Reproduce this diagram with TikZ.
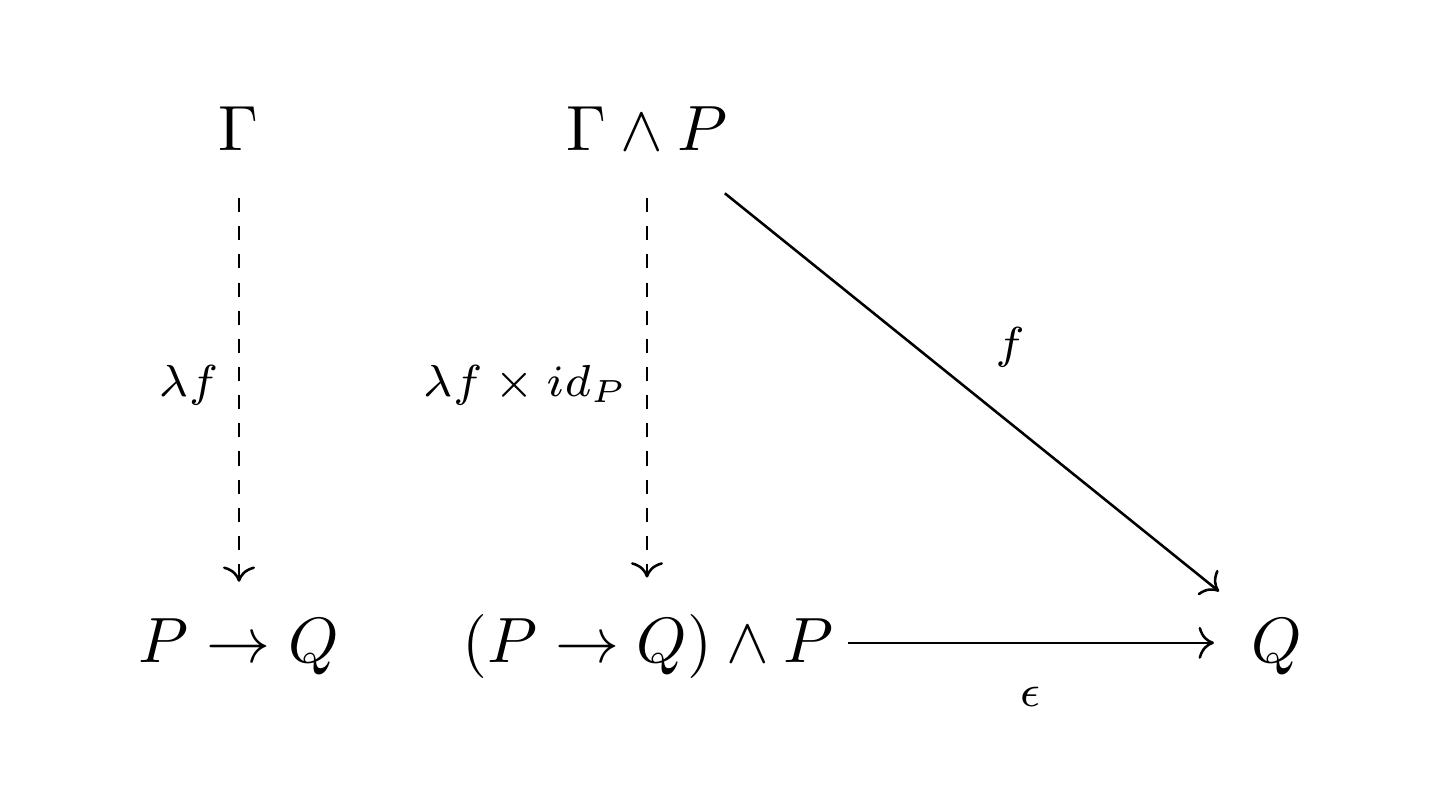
\documentclass[tikz,border=0pt]{standalone}
\usetikzlibrary{arrows.meta}
\begin{document}
\begin{tikzpicture}[x=0.15625pt,y=-0.15625pt,
  obj/.style={inner sep=0pt, anchor=base},
  lbl/.style={inner sep=0pt, font=\fontsize{7.5}{9}\selectfont},
  mor/.style={line width=0.4pt, -{Computer Modern Rightarrow[length=2.4pt,width=5pt]}},
  dmor/.style={mor, dash pattern=on 2.2pt off 2.2pt}]
\useasboundingbox (0,0) rectangle (1452,804);
\node[obj] (G) at (239,150) {$\Gamma$};
\node[obj] (GP) at (647,150) {$\Gamma\wedge P$};
\node[obj] (PQ) at (239,662) {$P\to Q$};
\node[obj] (PQP) at (648,662) {$(P\to Q)\wedge P$};
\node[obj] (Q) at (1277,662) {$Q$};
\draw[dmor, shorten <=7.3pt, shorten >=5.5pt] (G.south) -- (G.south |- PQ.north);
\draw[dmor, shorten <=7.3pt, shorten >=5.5pt] (GP.south) -- (GP.south |- PQP.north);
\draw[mor, shorten <=2pt, shorten >=5.7pt] ([yshift=3pt]PQP.base east) -- ([yshift=3pt]Q.base west);
\draw[mor] (GP.south east) ++(-4,42) coordinate (d1) -- ([xshift=-4.9pt,yshift=4pt]Q.north west) coordinate (d2);
\node[lbl, anchor=east] (l1) at (220,385) {$\lambda f$};
\node[lbl, anchor=east] (l2) at (629,385) {$\lambda f\times id_P$};
\node[lbl] (l3) at (1010,347) {$f$};
\node[lbl] (l4) at (1030,697) {$\epsilon$};
\end{tikzpicture}
\end{document}
